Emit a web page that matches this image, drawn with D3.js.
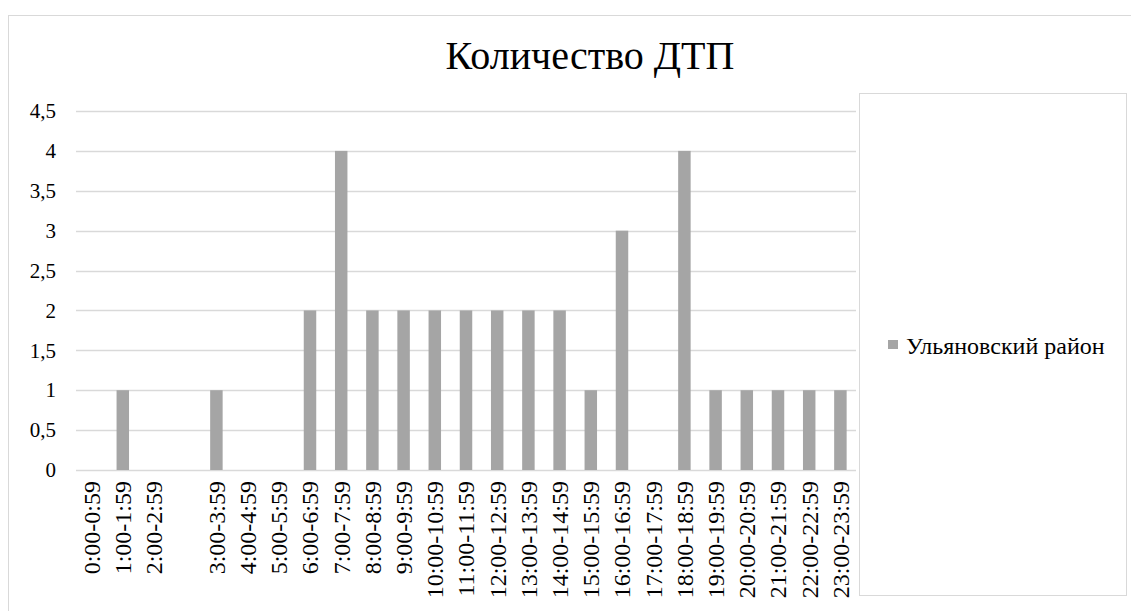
<!DOCTYPE html>
<html>
<head>
<meta charset="utf-8">
<script src="https://cdn.jsdelivr.net/npm/d3@7"></script>
<style>
  body { margin: 0; background: #fff; }
  svg text { font-family: "Liberation Serif", "Times New Roman", Tinos, "DejaVu Serif", "Noto Serif", serif; fill: #000; }
</style>
</head>
<body>
<div id="chart"></div>
<script>
// hourly intervals; the reference has one empty slot between 2:00 and 3:00
const categories = ['0:00-0:59', '1:00-1:59', '2:00-2:59', ' ', '3:00-3:59', '4:00-4:59', '5:00-5:59',
  '6:00-6:59', '7:00-7:59', '8:00-8:59', '9:00-9:59', '10:00-10:59', '11:00-11:59', '12:00-12:59',
  '13:00-13:59', '14:00-14:59', '15:00-15:59', '16:00-16:59', '17:00-17:59', '18:00-18:59',
  '19:00-19:59', '20:00-20:59', '21:00-21:59', '22:00-22:59', '23:00-23:59'];
const values = [0, 1, 0, 0, 1, 0, 0, 2, 4, 2, 2, 2, 2, 2, 2, 2, 1, 3, 0, 4, 1, 1, 1, 1, 1];
const yTicks = [0, 0.5, 1, 1.5, 2, 2.5, 3, 3.5, 4, 4.5];
const seriesName = 'Ульяновский район';
const title = 'Количество ДТП';

const data = categories.map((c, i) => ({ key: c, value: values[i] }));

const width = 1131, height = 611;
const plot = { left: 76, right: 856, top: 111, bottom: 470 };
const serif = '"Liberation Serif", "Times New Roman", Tinos, "DejaVu Serif", "Noto Serif", serif';

const svg = d3.select('#chart').append('svg')
  .attr('width', width)
  .attr('height', height);

// outer chart frame
svg.append('rect')
  .attr('x', 8.5).attr('y', 15.5)
  .attr('width', 1140).attr('height', 620)
  .attr('fill', 'none')
  .attr('stroke', '#d9d9d9');

const x = d3.scaleBand()
  .domain(categories)
  .range([plot.left, plot.right])
  .paddingInner(0.6)
  .paddingOuter(0.3);

const y = d3.scaleLinear()
  .domain([0, 4.5])
  .range([plot.bottom, plot.top]);

// gridlines
svg.append('g')
  .selectAll('line')
  .data(yTicks)
  .enter()
  .append('line')
  .attr('x1', plot.left)
  .attr('x2', plot.right)
  .attr('y1', (d) => Math.round(y(d)) + 0.5)
  .attr('y2', (d) => Math.round(y(d)) + 0.5)
  .attr('stroke', '#d9d9d9')
  .attr('stroke-width', 1.5);

// y axis labels
const yAxis = svg.append('g')
  .attr('transform', `translate(${plot.left}, 0)`)
  .call(d3.axisLeft(y).tickValues(yTicks).tickSize(0).tickPadding(20)
    .tickFormat((d) => String(d).replace('.', ',')));
yAxis.attr('font-family', serif);
yAxis.select('.domain').remove();
yAxis.selectAll('text')
  .style('font-family', serif)
  .style('font-size', '21px');

// bars
svg.append('g')
  .selectAll('.bar')
  .data(data)
  .enter()
  .append('rect')
  .attr('class', 'bar')
  .attr('x', (d) => x(d.key))
  .attr('width', x.bandwidth())
  .attr('y', (d) => y(d.value))
  .attr('height', (d) => plot.bottom - y(d.value))
  .attr('fill', '#a5a5a5');

// x axis labels, rotated
const xAxis = svg.append('g')
  .attr('transform', `translate(0, ${plot.bottom})`)
  .call(d3.axisBottom(x).tickSize(0).tickPadding(0));
xAxis.attr('font-family', serif);
xAxis.select('.domain').remove();
xAxis.selectAll('text')
  .attr('transform', 'rotate(-90)')
  .attr('x', -11)
  .attr('y', 0)
  .attr('dy', '0.35em')
  .style('text-anchor', 'end')
  .style('font-family', serif)
  .style('font-size', '24px');

// title
svg.append('text')
  .attr('x', 590)
  .attr('y', 69)
  .attr('text-anchor', 'middle')
  .style('font-family', serif)
  .style('font-size', '40px')
  .text(title);

// legend box
svg.append('rect')
  .attr('x', 859.5).attr('y', 93.5)
  .attr('width', 267).attr('height', 502)
  .attr('fill', '#fff')
  .attr('stroke', '#d9d9d9');

svg.append('rect')
  .attr('x', 888).attr('y', 340)
  .attr('width', 10).attr('height', 9)
  .attr('fill', '#a5a5a5');

svg.append('text')
  .attr('x', 906)
  .attr('y', 354)
  .style('font-family', serif)
  .style('font-size', '24px')
  .text(seriesName);
</script>
</body>
</html>
